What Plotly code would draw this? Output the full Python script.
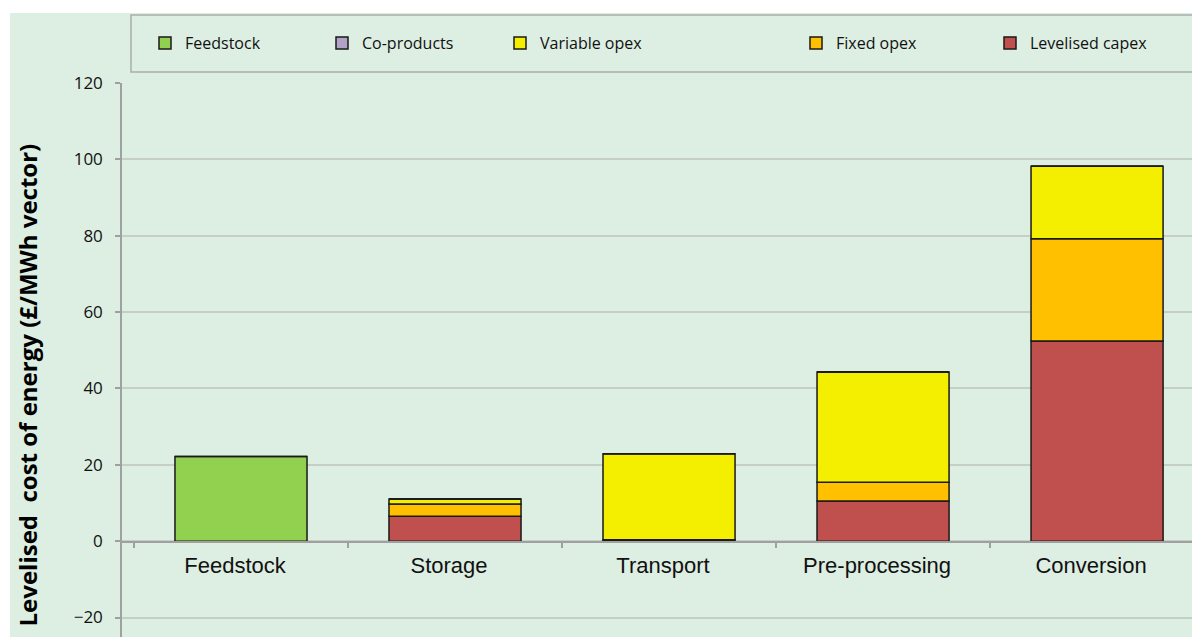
import plotly.graph_objects as go

categories = ["Feedstock", "Storage", "Transport", "Pre-processing", "Conversion"]
levelised_capex = [0, 6.5, 0.4, 10.5, 52.4]
fixed_opex = [0, 3.25, 0, 4.9, 26.8]
variable_opex = [0, 1.3, 22.5, 28.9, 19.0]
feedstock = [22.2, 0, 0, 0, 0]
co_products = [0, 0, 0, 0, 0]

y_ticks = [-20, 0, 20, 40, 60, 80, 100, 120]

BG = "#ddeee2"
OFF = 8  # page body margin
W, H = 1200 - OFF, 637 - OFF
L, T = 122 - OFF, 83 - OFF
PW, PH = W - L, H - T


def px_x(p):
    return (p - OFF - L) / PW


def px_y(p):
    return (H - (p - OFF)) / PH


series = [
    ("Levelised capex", levelised_capex, "#c0504d", "legend5", 1030),
    ("Fixed opex", fixed_opex, "#ffc000", "legend4", 836),
    ("Variable opex", variable_opex, "#f4ef00", "legend3", 540),
    ("Feedstock", feedstock, "#92d050", "legend", 185),
    ("Co-products", co_products, "#b3a2c7", "legend2", 362),
]

fig = go.Figure()
legend_layout = {}
for name, vals, color, leg, textx in series:
    fig.add_trace(go.Bar(
        x=categories, y=vals, name=name, legend=leg,
        marker=dict(color=color, line=dict(color="#1a1a1a", width=1.5)),
        width=0.617,
    ))
    legend_layout[leg] = dict(
        x=px_x(textx - 40), xanchor="left",
        y=px_y(43), yanchor="middle",
        bgcolor="rgba(0,0,0,0)", borderwidth=0,
        font=dict(family="Open Sans", size=16, color="#111111"),
    )

fig.update_layout(
    width=W, height=H,
    margin=dict(l=L, r=0, t=T, b=0, autoexpand=False),
    paper_bgcolor="white",
    plot_bgcolor=BG,
    barmode="relative",
    showlegend=True,
    **legend_layout,
)

fig.update_yaxes(
    range=[-25.1, 120],
    tickvals=y_ticks,
    showgrid=True, gridcolor="#c6cec8", gridwidth=1.5,
    zeroline=False,
    showline=True, linecolor="#a0a0a0", linewidth=1.5,
    ticks="outside", ticklen=5, tickcolor="#a0a0a0", tickwidth=1.5,
    ticklabelstandoff=9,
    tickfont=dict(family="Open Sans", size=17, color="#111111"),
)
fig.update_xaxes(
    range=[-0.556, 4.481],
    anchor="free", position=px_y(541.5),
    showline=True, linecolor="#a0a0a0", linewidth=2,
    showgrid=False,
    ticks="outside", tickson="boundaries", ticklen=5, tickcolor="#a0a0a0", tickwidth=1.5,
    ticklabelstandoff=4, ticklabelshift=-6,
    tickfont=dict(family="Liberation Sans", size=22, color="#111111"),
)

# green background panel and legend frame
fig.add_shape(type="rect", xref="paper", yref="paper",
              x0=px_x(10), x1=px_x(1215), y0=px_y(650), y1=px_y(13),
              fillcolor=BG, line=dict(width=0), layer="below")
fig.add_shape(type="rect", xref="paper", yref="paper",
              x0=px_x(131), x1=px_x(1215), y0=px_y(72), y1=px_y(15),
              fillcolor="rgba(0,0,0,0)", line=dict(color="#a8aea9", width=1.5), layer="below")

fig.add_annotation(
    text="Levelised\u00a0 cost of energy (£/MWh vector)",
    xref="paper", yref="paper", x=px_x(27), y=px_y(385.5),
    xanchor="center", yanchor="middle", textangle=-90, showarrow=False,
    font=dict(family="Open Sans", size=24, color="#000000", weight="bold"),
)

fig.write_html("out.html")
